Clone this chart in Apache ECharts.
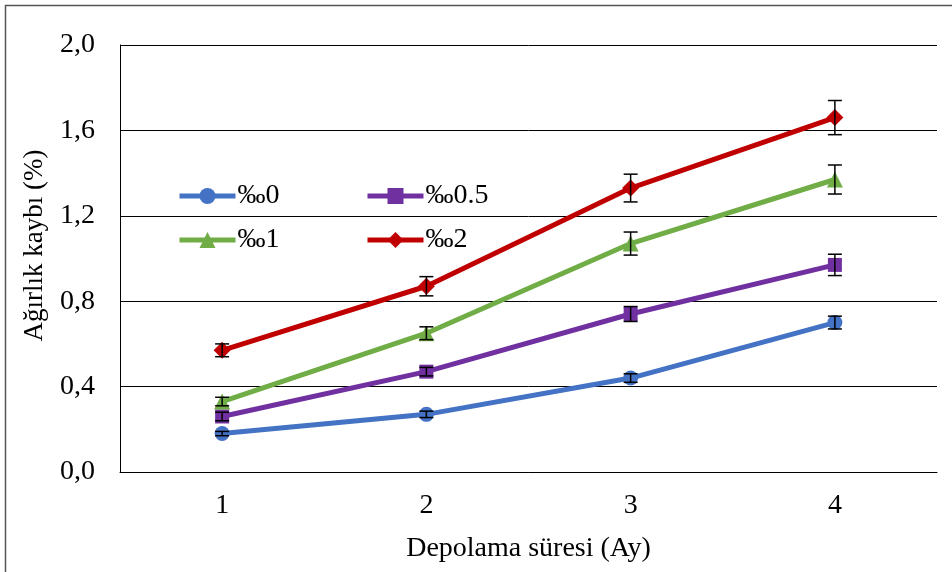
<!DOCTYPE html>
<html>
<head>
<meta charset="utf-8">
<script src="https://cdn.jsdelivr.net/npm/echarts@6/dist/echarts.min.js"></script>
<style>html,body{margin:0;padding:0;background:#fff}#c{width:952px;height:572px}</style>
</head>
<body>
<div id="c"></div>
<script>
const categories = ['1', '2', '3', '4'];
const seriesNames = ['‰0', '‰0.5', '‰1', '‰2'];
const v0 = [0.18, 0.27, 0.44, 0.70];
const v05 = [0.26, 0.47, 0.74, 0.97];
const v1 = [0.33, 0.65, 1.07, 1.37];
const v2 = [0.57, 0.87, 1.33, 1.66];
const e0 = [0.01, 0.015, 0.02, 0.03];
const e05 = [0.02, 0.02, 0.035, 0.05];
const e1 = [0.02, 0.03, 0.054, 0.068];
const e2 = [0.03, 0.045, 0.065, 0.08];
const yTicks = [0, 0.4, 0.8, 1.2, 1.6, 2.0];

const values = [v0, v05, v1, v2];
const errors = [e0, e05, e1, e2];
const colors = ['#4472C4', '#7030A0', '#70AD47', '#C00000'];
const symbols = ['circle', 'rect', 'triangle', 'diamond'];
const symbolSizes = [15, 14, 16, 17];
const font = 'Liberation Serif';

const series = [];
values.forEach((vals, i) => {
  series.push({
    name: seriesNames[i], type: 'line', data: vals,
    symbol: symbols[i], symbolSize: symbolSizes[i],
    lineStyle: { width: 5, color: colors[i] },
    itemStyle: { color: colors[i] },
    z: 3
  });
});
values.forEach((vals, i) => {
  series.push({
    type: 'custom', silent: true, z: 4,
    data: vals.map((v, j) => [j, v - errors[i][j], v + errors[i][j]]),
    renderItem: function (params, api) {
      const lo = api.coord([api.value(0), api.value(1)]);
      const hi = api.coord([api.value(0), api.value(2)]);
      const hw = 7;
      const st = { stroke: '#000', lineWidth: 1.5 };
      return { type: 'group', children: [
        { type: 'line', shape: { x1: lo[0], y1: lo[1], x2: hi[0], y2: hi[1] }, style: st },
        { type: 'line', shape: { x1: lo[0] - hw, y1: lo[1], x2: lo[0] + hw, y2: lo[1] }, style: st },
        { type: 'line', shape: { x1: hi[0] - hw, y1: hi[1], x2: hi[0] + hw, y2: hi[1] }, style: st }
      ]};
    }
  });
});

const legendCommon = {
  orient: 'vertical', itemWidth: 56, itemHeight: 20, itemGap: 16,
  lineStyle: { width: 5 },
  textStyle: { fontFamily: font, fontSize: 28, color: '#000', padding: [0, 0, 0, -3] }
};

const chart = echarts.init(document.getElementById('c'), null, { renderer: 'canvas' });
chart.setOption({
  animation: false,
  backgroundColor: '#fff',
  graphic: [{ type: 'rect', shape: { x: 5.5, y: 5.5, width: 1000, height: 1000 },
    style: { fill: 'none', stroke: '#555', lineWidth: 1.5 }, z: -10 }],
  legend: [
    Object.assign({ data: [seriesNames[0], seriesNames[2]], left: 172, top: 177 }, legendCommon),
    Object.assign({ data: [seriesNames[1], seriesNames[3]], left: 360, top: 177 }, legendCommon)
  ],
  grid: { left: 120, right: 15, top: 45, bottom: 100, containLabel: false, outerBoundsMode: 'none' },
  xAxis: {
    type: 'category', data: categories, boundaryGap: true,
    name: 'Depolama süresi (Ay)', nameLocation: 'middle', nameGap: 63,
    nameTextStyle: { fontFamily: font, fontSize: 28, color: '#000' },
    axisLine: { lineStyle: { color: '#000', width: 1 } },
    axisTick: { show: false },
    axisLabel: { fontFamily: font, fontSize: 28, color: '#000', margin: 20 }
  },
  yAxis: {
    type: 'value', min: 0, max: 2.0, interval: 0.4,
    name: 'Ağırlık kaybı (%)', nameLocation: 'middle', nameGap: 72,
    nameTextStyle: { fontFamily: font, fontSize: 27, color: '#000', padding: [0, 0, 0, 26] },
    axisLine: { show: true, lineStyle: { color: '#000', width: 1 } },
    axisTick: { show: false },
    splitLine: { lineStyle: { color: '#000', width: 1 } },
    axisLabel: { fontFamily: font, fontSize: 28, color: '#000', margin: 25,
      formatter: v => { const t = yTicks.find(x => Math.abs(x - v) < 1e-9); return (t !== undefined ? t : v).toFixed(1).replace('.', ','); } }
  },
  series: series
});
</script>
</body>
</html>
